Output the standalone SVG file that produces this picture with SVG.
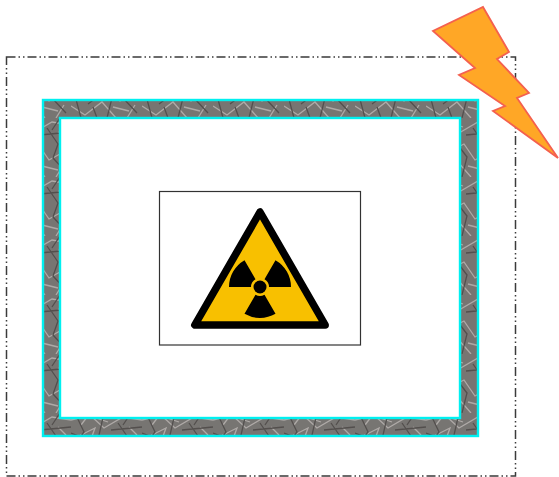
<svg xmlns="http://www.w3.org/2000/svg" width="559" height="477" viewBox="0 0 559 477">
  <style>
    .boundary{fill:none;stroke:#3a3a3a;stroke-width:1.500;stroke-dasharray:9 3 1.500 3 1.500 3}
    .tex{stroke-width:1.300;fill:none}
    .l{stroke:#aeaaa7}
    .d{stroke:#524f4d}
    .soft{filter:url(#soft)}
  </style>
  <defs>
    <filter id="soft" x="-5%" y="-5%" width="110%" height="110%"><feGaussianBlur stdDeviation="0.5"/></filter>
    <filter id="softer" x="-5%" y="-5%" width="110%" height="110%"><feGaussianBlur stdDeviation="0.55"/></filter>
    <pattern id="stone" width="71" height="59" patternUnits="userSpaceOnUse">
      <rect width="71" height="59" fill="#777472"/>
      <path class="tex l" d="M0 7 L19 2 L33 15 L52 4 L71 7 M6 24 L24 15 L16 37 L38 26 L49 42 L71 30 M0 47 L14 56 L31 43 L45 59 M58 14 L66 22 M19 0 L10 12 M56 59 L64 46 M25 5 L37 9 M42 48 L58 52"/>
      <path class="tex d" d="M4 0 L13 19 L3 33 L10 59 M33 0 L28 22 L41 39 L36 59 M47 10 L58 26 L53 40 L66 54 M0 20 L21 28 M40 17 L71 14 M17 45 L33 33 M60 0 L52 12 M22 48 L26 59"/>
    </pattern>
  </defs>
  <g id="trust-boundary" class="soft">
    <rect class="boundary" x="6.500" y="57" width="509" height="419"/>
  </g>
  <g id="shield">
    <path fill="url(#stone)" fill-rule="evenodd" d="M43 100H478V436H43Z M60 118V418H460V118Z" filter="url(#softer)"/>
    <rect x="43" y="100" width="435" height="336" fill="none" stroke="#00f0f0" stroke-width="2.400" class="soft"/>
    <rect x="60" y="118" width="400" height="300" fill="none" stroke="#00f0f0" stroke-width="2.400" class="soft"/>
  </g>
  <g id="hazard" class="soft">
    <rect x="159.500" y="191.500" width="201" height="153.500" fill="#fff" stroke="#333" stroke-width="1.200"/>
    <polygon points="260,212 194.800,325 325.200,325" fill="#f8c000" stroke="#000" stroke-width="7.500" stroke-linejoin="round"/>
    <circle cx="260" cy="287" r="6.500" fill="#000"/>
    <path id="blade" d="M251 287L229 287A31 31 0 0 1 244.500 260.150L255.500 279.200A9 9 0 0 0 251 287Z" fill="#000"/>
    <use href="#blade" transform="rotate(120 260 287)"/>
    <use href="#blade" transform="rotate(240 260 287)"/>
  </g>
  <g id="lightning" class="soft">
    <polygon points="483,7 509,52 497,59 529,93 517,98 558,158 493,111 505,106 459,75 475,68 433,31" fill="#ffa726" stroke="#f4604f" stroke-width="1.800" stroke-linejoin="miter"/>
  </g>
</svg>
